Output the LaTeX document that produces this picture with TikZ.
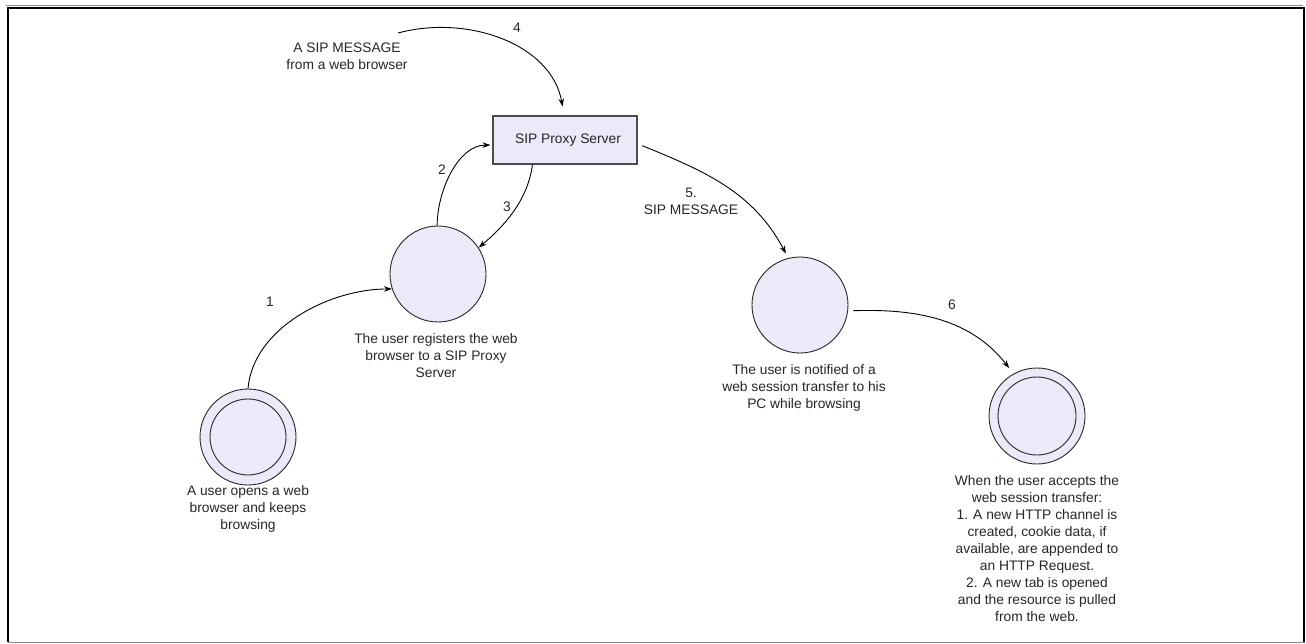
\documentclass[tikz,border=0pt]{standalone}
\usepackage{fontspec}
\setmainfont{Liberation Sans}
\usetikzlibrary{arrows.meta}
\definecolor{statefill}{RGB}{234,234,248}
\definecolor{txt}{RGB}{38,38,38}
\definecolor{edge}{RGB}{40,40,40}
\begin{document}
\begin{tikzpicture}[x=1pt,y=1pt,
  state/.style={circle,draw=edge,line width=0.9pt,fill=statefill,minimum size=96pt,inner sep=0pt},
  proxybox/.style={rectangle,draw=black!70,line width=1.1pt,fill=statefill,minimum width=144pt,minimum height=48pt,inner sep=0pt,
    font=\fontsize{13.8}{17}\selectfont,text=txt},
  lbl/.style={align=center,inner sep=0pt,font=\fontsize{13.8}{17}\selectfont,text=txt},
  conn/.style={draw=black,line width=0.9pt,-{Stealth[length=8pt,width=5.5pt]}}
]
\useasboundingbox (0,0) rectangle (1306,-644);
% frame
\draw[black!45,line width=0.8pt] (6,-5.3) -- (1303,-5.3);
\draw[black,line width=2pt] (7.7,-642) -- (7.7,-7.7) -- (1303.5,-7.7) -- (1303.5,-642);
\draw[black!45,line width=1.5pt] (7.7,-642.5) -- (1304.5,-642.5);

% states
\node[state] (c1) at (248,-437) {};
\draw[edge,line width=0.9pt] (c1.center) circle (38pt);
\node[state] (c2) at (438,-274) {};
\node[state] (c3) at (800,-305) {};
\node[state] (c4) at (1037,-416) {};
\draw[edge,line width=0.9pt] (c4.center) circle (39pt);
\node[proxybox] (box) at (565,-140) {\hspace*{6pt}SIP Proxy Server};

% captions
\node[lbl] (t1) at (248,-509) {A user opens a web\\browser and keeps\\browsing};
\node[lbl] (t2) at (436,-356) {The user registers the web\\browser to a SIP Proxy\\Server};
\node[lbl] (t3) at (804,-388) {The user is notified of a\\web session transfer to his\\PC while browsing};
\node[lbl] (t4) at (1037,-549) {When the user accepts the\\web session transfer:\\1. A new HTTP channel is\\created, cookie data, if\\available, are appended to\\an HTTP Request.\\2. A new tab is opened\\and the resource is pulled\\from the web.};
\node[lbl] (t0) at (347,-56) {A SIP MESSAGE\\from a web browser};

% edge labels
\node[lbl] (n1) at (270,-302) {1};
\node[lbl] (n2) at (442,-170) {2};
\node[lbl] (n3) at (507,-207) {3};
\node[lbl] (n4) at (517,-28) {4};
\node[lbl] (n5) at (691,-201) {5.\\SIP MESSAGE};
\node[lbl] (n6) at (952,-305) {6};

% connectors
\coordinate (m4) at (398,-33);
\draw[conn] (c1.north) to[out=85,in=180,looseness=0.9] (c2.198);
\draw[conn,shorten >=2pt] (c2.91) to[out=90,in=180,looseness=0.9] (box.184);
\draw[conn] (box.217) to[out=-97,in=40,looseness=0.9] (c2.33);
\draw[conn,shorten >=9pt] (m4) to[out=15,in=100,looseness=1.0] (box.92);
\draw[conn,shorten <=5pt,shorten >=5pt] (box.-3) to[out=-22,in=118,looseness=1.0] (c3.104);
\draw[conn,shorten <=5pt,shorten >=7pt] (c3.-7) to[out=2,in=128,looseness=1.0] (c4.119);
\end{tikzpicture}
\end{document}
